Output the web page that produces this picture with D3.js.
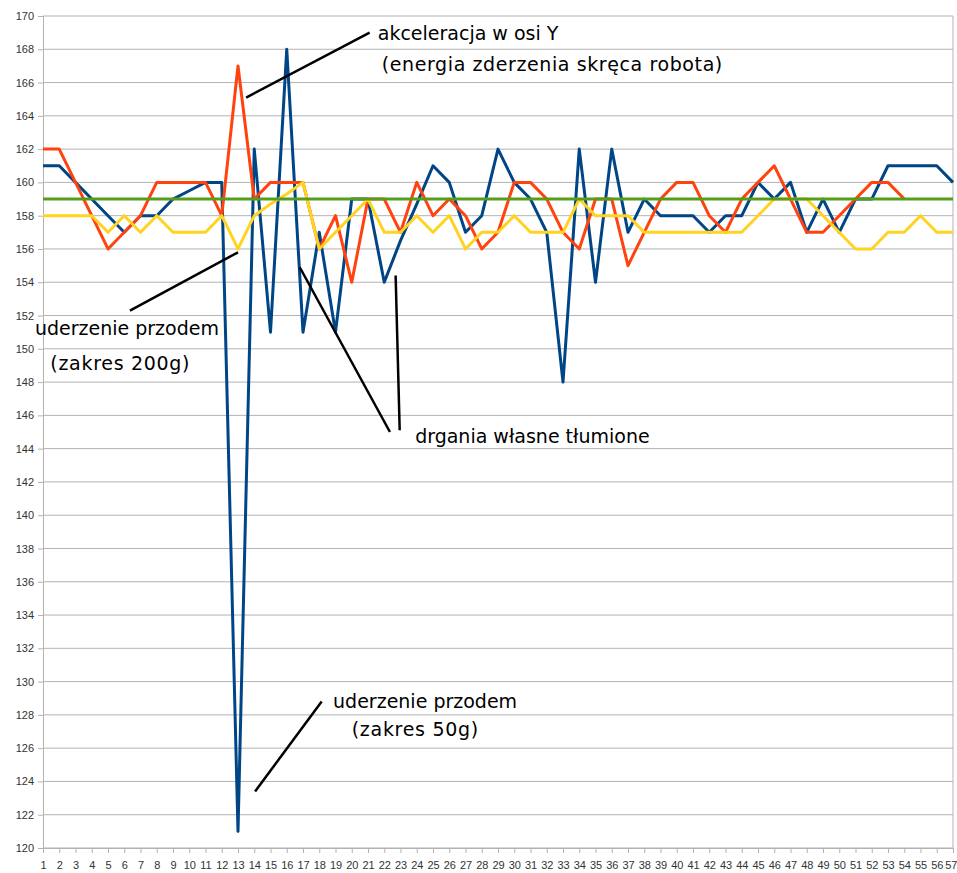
<!DOCTYPE html>
<html>
<head>
<meta charset="utf-8">
<script src="https://cdn.jsdelivr.net/npm/d3@7"></script>
<style>
    body { margin: 0; background: #fff; }
    .tick text { font-family: "Liberation Sans", Arial, sans-serif; font-size: 11px; fill: #333; }
    .note { font-family: "DejaVu Sans", sans-serif; font-size: 19px; fill: #000; }
</style>
</head>
<body>
<div id="chart"></div>
<script>
// Data
const samples = d3.range(1, 58);
const yTicks = [120, 122, 124, 126, 128, 130, 132, 134, 136, 138, 140, 142, 144, 146, 148, 150,
    152, 154, 156, 158, 160, 162, 164, 166, 168, 170];

const seriesBlue = [161, 161, 160, 159, 158, 157, 158, 158, 159, 159.5, 160, 160, 121, 162, 151, 168,
    151, 157, 151, 159, 159, 154, 156.5, 158.7, 161, 160, 157, 158, 162, 160, 159, 157, 148, 162, 154,
    162, 157, 159, 158, 158, 158, 157, 158, 158, 160, 159, 160, 157, 159, 157, 159, 159, 161, 161,
    161, 161, 160];
const seriesOrange = [162, 162, 160, 158, 156, 157, 158, 160, 160, 160, 160, 158, 167, 159, 160, 160,
    160, 156, 158, 154, 159, 159, 157, 160, 158, 159, 158, 156, 157, 160, 160, 159, 157, 156, 159,
    159, 155, 157, 159, 160, 160, 158, 157, 159, 160, 161, 159, 157, 157, 158, 159, 160, 160, 159];
const seriesYellow = [158, 158, 158, 158, 157, 158, 157, 158, 157, 157, 157, 158, 156, 158, 158.7,
    159.3, 160, 156, 157, 158, 159, 157, 157, 158, 157, 158, 156, 157, 157, 158, 157, 157, 157, 159,
    158, 158, 158, 157, 157, 157, 157, 157, 157, 157, 158, 159, 159, 159, 158, 157, 156, 156, 157,
    157, 158, 157, 157];
const seriesGreen = samples.map(() => 159);

const seriesColors = ['#004586', '#ff420e', '#ffd320', '#579d1c'];

// annotations, in chart units: [sample, value]
const noteLines = [
    [[13.5, 165.1], [21.1, 169.0]],
    [[6.35, 152.3], [13.0, 155.8]],
    [[16.8, 154.9], [22.35, 145.0]],
    [[22.7, 154.4], [22.95, 145.1]],
    [[14.05, 123.4], [18.15, 128.8]]
];
const noteTexts = [
    { at: [21.6, 168.55], text: 'akceleracja w osi Y', spread: 0 },
    { at: [21.85, 166.7], text: '(energia zderzenia skręca robota)', spread: 0.6 },
    { at: [0.5, 150.8], text: 'uderzenie przodem', spread: 0 },
    { at: [1.45, 148.7], text: '(zakres 200g)', spread: 0.7 },
    { at: [23.9, 144.35], text: 'drgania własne tłumione', spread: 0 },
    { at: [18.85, 128.4], text: 'uderzenie przodem', spread: 0 },
    { at: [20.0, 126.75], text: '(zakres 50g)', spread: 0.7 }
];

function draw() {
    let dimensions = {
        width: 957,
        height: 873,
        left: 43,
        right: 953,
        top: 16,
        bottom: 848
    };

    const svg = d3.select('#chart')
        .append('svg')
        .attr('width', dimensions.width)
        .attr('height', dimensions.height);

    // Scales
    const xScale = d3.scalePoint()
        .domain(samples)
        .range([dimensions.left, dimensions.right]);

    const yScale = d3.scaleLinear()
        .domain([120, 170])
        .range([dimensions.bottom, dimensions.top]);

    // gridlines
    svg.append('g')
        .attr('class', 'grid')
        .selectAll('line')
        .data(yTicks)
        .join('line')
        .attr('x1', dimensions.left)
        .attr('x2', dimensions.right)
        .attr('y1', d => yScale(d))
        .attr('y2', d => yScale(d))
        .attr('stroke', '#b3b3b3')
        .attr('stroke-width', 1);

    svg.append('line')
        .attr('x1', dimensions.right)
        .attr('x2', dimensions.right)
        .attr('y1', dimensions.top)
        .attr('y2', dimensions.bottom)
        .attr('stroke', '#b3b3b3');

    // Axes
    const yAxis = d3.axisLeft(yScale)
        .tickValues(yTicks)
        .tickSize(5)
        .tickPadding(4)
        .tickFormat(d3.format('d'));

    const yAxisGroup = svg.append('g')
        .attr('transform', `translate(${dimensions.left}, 0)`)
        .call(yAxis);
    yAxisGroup.selectAll('line').attr('stroke', '#b3b3b3');
    yAxisGroup.select('.domain').attr('stroke', '#b3b3b3');

    const xAxis = d3.axisBottom(xScale)
        .tickSize(5)
        .tickPadding(8);

    const xAxisGroup = svg.append('g')
        .attr('transform', `translate(0, ${dimensions.bottom})`)
        .call(xAxis);
    xAxisGroup.selectAll('line').attr('stroke', '#b3b3b3');
    xAxisGroup.select('.domain').attr('stroke', '#b3b3b3');
    // last label would spill off the page
    xAxisGroup.selectAll('.tick text')
        .filter(d => d === samples[samples.length - 1])
        .attr('text-anchor', 'end')
        .attr('x', 4);

    // Lines
    const lineGen = d3.line()
        .x((d, i) => xScale(samples[i]))
        .y(d => yScale(d));

    const allSeries = [seriesBlue, seriesOrange, seriesYellow, seriesGreen];

    svg.append('g')
        .selectAll('path')
        .data(allSeries)
        .join('path')
        .attr('d', d => lineGen(d))
        .attr('fill', 'none')
        .attr('stroke', (d, i) => seriesColors[i])
        .attr('stroke-width', 3)
        .attr('stroke-linejoin', 'round');

    // annotations
    const px = p => [
        dimensions.left + (p[0] - 1) * xScale.step(),
        yScale(p[1])
    ];

    svg.append('g')
        .selectAll('line')
        .data(noteLines)
        .join('line')
        .attr('x1', d => px(d[0])[0])
        .attr('y1', d => px(d[0])[1])
        .attr('x2', d => px(d[1])[0])
        .attr('y2', d => px(d[1])[1])
        .attr('stroke', '#000')
        .attr('stroke-width', 2.5);

    svg.append('g')
        .selectAll('text')
        .data(noteTexts)
        .join('text')
        .attr('class', 'note')
        .attr('x', d => px(d.at)[0])
        .attr('y', d => px(d.at)[1])
        .style('letter-spacing', d => `${d.spread}px`)
        .text(d => d.text);
}

draw();
</script>
</body>
</html>
